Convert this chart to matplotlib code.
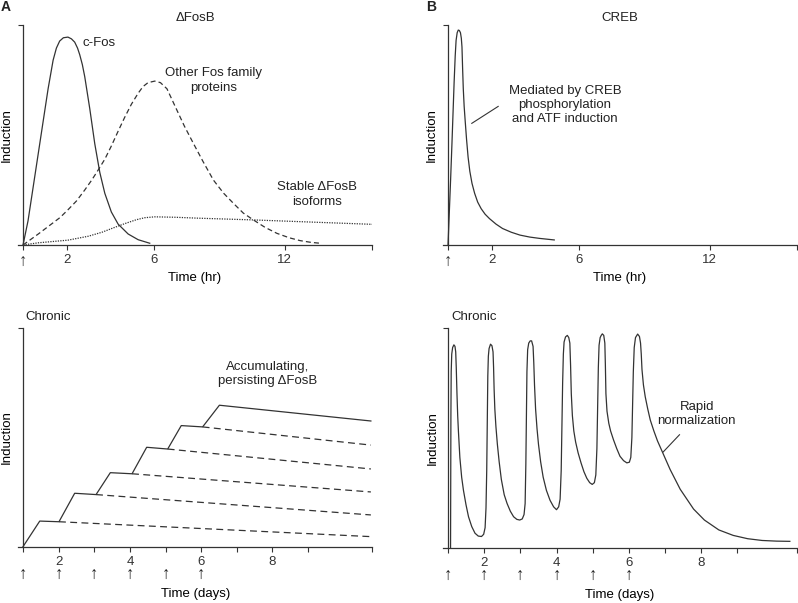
import matplotlib.pyplot as plt
from matplotlib.transforms import blended_transform_factory

plt.rcParams.update({"font.family": ["Liberation Sans", "DejaVu Sans"], "font.size": 9.5,
                     "text.color": "#222222", "axes.edgecolor": "#333333",
                     "xtick.color": "#333333", "ytick.color": "#333333"})
INK = "#333333"

# --- A, acute (hours) ---
cfos_hr = [0, 0.23, 0.46, 0.69, 0.92, 1.15, 1.38, 1.53, 1.68, 1.85, 2.06, 2.22, 2.37, 2.5, 2.6,
           2.72, 2.83, 3.06, 3.29, 3.52, 3.75, 4.05, 4.36, 4.82, 5.28, 5.81]
cfos_val = [0, 0.11, 0.26, 0.41, 0.56, 0.71, 0.84, 0.895, 0.927, 0.942, 0.945, 0.937, 0.922, 0.895,
            0.865, 0.82, 0.765, 0.62, 0.46, 0.33, 0.235, 0.15, 0.095, 0.05, 0.024, 0.008]
other_hr = [0, 0.35, 0.7, 1.3, 1.7, 2.06, 2.45, 2.83, 3.15, 3.44, 3.75, 4.05, 4.35, 4.66, 4.97,
            5.28, 5.5, 5.73, 6.04, 6.3, 6.6, 7.05, 7.4, 7.81, 8.25, 8.73, 9.2, 9.65, 10.1, 10.56,
            11.1, 11.64, 12.2, 12.7, 13.2, 13.62]
other_val = [0, 0.025, 0.05, 0.095, 0.125, 0.16, 0.2, 0.25, 0.295, 0.34, 0.39, 0.45, 0.515, 0.58,
             0.64, 0.69, 0.72, 0.738, 0.745, 0.738, 0.71, 0.614, 0.54, 0.462, 0.38, 0.295, 0.235,
             0.189, 0.145, 0.114, 0.08, 0.053, 0.033, 0.02, 0.012, 0.008]
stable_hr = [0, 0.7, 2.06, 3.0, 3.62, 4.2, 4.66, 5.2, 5.58, 6.04, 7.0, 8.0, 10.56, 13.0, 16.0]
stable_val = [0, 0.01, 0.022, 0.04, 0.058, 0.08, 0.097, 0.115, 0.124, 0.128, 0.126, 0.122, 0.114,
              0.105, 0.094]

# --- B, acute (hours) ---
creb_hr = [0, 0.06, 0.12, 0.18, 0.23, 0.28, 0.33, 0.37, 0.42, 0.47, 0.52, 0.57, 0.61, 0.64, 0.67,
           0.7, 0.74, 0.79, 0.85, 0.92, 1.0, 1.1, 1.22, 1.36, 1.52, 1.7, 1.9, 2.2, 2.5, 2.9, 3.3,
           3.75, 4.2, 4.87]
creb_val = [0, 0.15, 0.3, 0.46, 0.6, 0.74, 0.86, 0.93, 0.965, 0.977, 0.975, 0.965, 0.94, 0.9, 0.8,
            0.71, 0.63, 0.56, 0.48, 0.4, 0.335, 0.28, 0.235, 0.195, 0.165, 0.14, 0.12, 0.095,
            0.075, 0.058, 0.045, 0.036, 0.03, 0.023]

# --- A, chronic (days) ---
stair_day = [1.0, 1.47, 2.01, 2.45, 3.05, 3.45, 4.06, 4.47, 5.06, 5.44, 6.04, 6.51, 10.76]
stair_val = [0, 0.117, 0.114, 0.244, 0.238, 0.338, 0.333, 0.454, 0.446, 0.553, 0.547, 0.646, 0.574]
decay_start_day = [2.01, 3.05, 4.06, 5.06, 6.04]
decay_start_val = [0.114, 0.238, 0.333, 0.446, 0.547]
decay_end_day = 10.76
decay_end_val = [0.046, 0.145, 0.25, 0.355, 0.464]

# --- B, chronic (days) ---
pulse_day = [
    1.062, 1.066, 1.072, 1.08, 1.095, 1.12, 1.155, 1.185, 1.205,
    1.22, 1.24, 1.26, 1.28, 1.32, 1.37, 1.42, 1.49, 1.56, 1.65, 1.74, 1.83, 1.92,
    1.98, 2.02, 2.045, 2.065, 2.08, 2.095, 2.11, 2.13, 2.17, 2.21, 2.24,
    2.255, 2.27, 2.29, 2.32, 2.36, 2.41, 2.47, 2.55, 2.63, 2.72, 2.81, 2.9, 2.98,
    3.05, 3.1, 3.13, 3.15, 3.165, 3.18, 3.2, 3.23, 3.27, 3.31, 3.35,
    3.37, 3.39, 3.42, 3.46, 3.5, 3.56, 3.63, 3.72, 3.82, 3.92, 4.0,
    4.06, 4.1, 4.13, 4.15, 4.17, 4.19, 4.21, 4.25, 4.3, 4.34, 4.37,
    4.39, 4.41, 4.44, 4.48, 4.53, 4.6, 4.68, 4.76, 4.84, 4.92, 4.99,
    5.05, 5.09, 5.12, 5.14, 5.16, 5.18, 5.21, 5.24, 5.27, 5.31, 5.34,
    5.355, 5.37, 5.4, 5.45, 5.5, 5.58, 5.67, 5.76, 5.86, 5.95, 6.02,
    6.06, 6.09, 6.11, 6.13, 6.155, 6.19, 6.25, 6.3, 6.33,
    6.35, 6.37, 6.41, 6.46, 6.53, 6.6, 6.7, 6.8, 6.96, 7.15, 7.43, 7.8, 8.1, 8.5, 8.9, 9.3,
    9.7, 10.1, 10.47]
pulse_val = [
    0.0, 0.3, 0.6, 0.8, 0.88, 0.91, 0.922, 0.915, 0.89,
    0.82, 0.7, 0.6, 0.53, 0.41, 0.32, 0.26, 0.195, 0.14, 0.095, 0.065, 0.052, 0.05,
    0.06, 0.09, 0.18, 0.35, 0.58, 0.78, 0.87, 0.905, 0.925, 0.918, 0.89,
    0.82, 0.72, 0.63, 0.55, 0.47, 0.39, 0.31, 0.24, 0.2, 0.165, 0.14, 0.128, 0.125,
    0.13, 0.15, 0.2, 0.38, 0.6, 0.8, 0.9, 0.93, 0.94, 0.94, 0.915,
    0.84, 0.74, 0.63, 0.54, 0.47, 0.39, 0.32, 0.26, 0.215, 0.185, 0.172,
    0.185, 0.22, 0.35, 0.55, 0.75, 0.88, 0.935, 0.958, 0.965, 0.955, 0.93,
    0.83, 0.7, 0.6, 0.53, 0.48, 0.43, 0.385, 0.345, 0.315, 0.295, 0.287,
    0.295, 0.33, 0.45, 0.65, 0.82, 0.92, 0.955, 0.965, 0.972, 0.965, 0.93,
    0.83, 0.7, 0.62, 0.565, 0.53, 0.49, 0.45, 0.415, 0.395, 0.385, 0.388,
    0.41, 0.5, 0.65, 0.8, 0.91, 0.955, 0.971, 0.96, 0.93,
    0.88, 0.81, 0.74, 0.686, 0.63, 0.58, 0.53, 0.485, 0.425, 0.355, 0.265, 0.175, 0.125, 0.08,
    0.055, 0.04, 0.032, 0.029, 0.028]

dose_days = [1, 2, 3, 4, 5, 6]
hr_ticks = [0, 2, 6, 12, 16]
hr_labels = ["\u2191", "2", "6", "12", ""]
day_labels = {2: "2", 4: "4", 6: "6", 8: "8"}

fig = plt.figure(figsize=(7.98, 6.03), dpi=100)
W, H = 798, 603


def make_axes(x0, x1, ytop, ybot, xlim, origin):
    ax = fig.add_axes([x0 / W, 1 - ybot / H, (x1 - x0) / W, (ybot - ytop) / H])
    ax.set_xlim(*xlim)
    ax.set_ylim(0, 1)
    for s in ["top", "right"]:
        ax.spines[s].set_visible(False)
    ax.spines["left"].set_position(("data", origin))
    ax.spines["left"].set_bounds(0, 1)
    ax.set_yticks([1])
    ax.set_yticklabels([])
    ax.tick_params(length=3.5, width=0.8, pad=3)
    for s in ax.spines.values():
        s.set_linewidth(0.9)
    ax.set_ylabel("Induction")
    ax.yaxis.set_label_coords(-0.014, 0.5)
    return ax


# top-left
ax1 = make_axes(18, 372, 25, 245, (-0.23, 16), 0)
ax1.plot(cfos_hr, cfos_val, color=INK, lw=0.9)
ax1.plot(other_hr, other_val, color=INK, lw=0.9, ls=(0, (4, 2.5)))
ax1.plot(stable_hr, stable_val, color=INK, lw=0.9, ls=(0, (1, 1)))
ax1.text(0.5, 1.032, "\u0394FosB", transform=ax1.transAxes, ha="center", va="center")
ax1.text(2.75, 0.918, "c-Fos", ha="left", va="center")
ax1.text(8.72, 0.748, "Other Fos family\nproteins", ha="center", va="center", linespacing=1.25)
ax1.text(13.5, 0.229, "Stable \u0394FosB\nisoforms", ha="center", va="center", linespacing=1.25)

# top-right
ax2 = make_axes(443, 797, 25, 245, (-0.23, 16), 0)
ax2.plot(creb_hr, creb_val, color=INK, lw=0.9)
ax2.plot([1.09, 2.3], [0.553, 0.63], color=INK, lw=0.8)
ax2.text(0.5, 1.032, "CREB", transform=ax2.transAxes, ha="center", va="center")
ax2.text(5.37, 0.636, "Mediated by CREB\nphosphorylation\nand ATF induction",
         ha="center", va="center", linespacing=1.25)

for ax in (ax1, ax2):
    ax.set_xticks(hr_ticks, hr_labels)
    ax.get_xticklabels()[0].set_fontsize(12)
    ax.set_xlabel("Time (hr)")
    ax.xaxis.set_label_coords(0.5, -0.125)

# bottom-left
ax3 = make_axes(18, 372.3, 327.7, 546.7, (0.86, 10.8), 1)
ax3.plot(stair_day, stair_val, color=INK, lw=0.9)
for d0, v0, v1 in zip(decay_start_day, decay_start_val, decay_end_val):
    ax3.plot([d0, decay_end_day], [v0, v1], color=INK, lw=0.9, ls=(0, (5.5, 3.5)))
ax3.text(7.87, 0.79, "Accumulating,\npersisting \u0394FosB", ha="center", va="center",
         linespacing=1.25)

# bottom-right
ax4 = make_axes(443.3, 796.7, 327.7, 547.5, (0.861, 10.66), 1)
ax4.plot(pulse_day, pulse_val, color=INK, lw=0.9)
ax4.plot([6.96, 7.41], [0.435, 0.513], color=INK, lw=0.8)
ax4.text(7.89, 0.607, "Rapid\nnormalization", ha="center", va="center", linespacing=1.25)

for ax, end in [(ax3, 10.8), (ax4, 10.66)]:
    ticks = list(range(1, 10)) + [end]
    ax.set_xticks(ticks, [day_labels.get(t, "") for t in ticks])
    ax.set_xlabel("Time (days)")
    ax.xaxis.set_label_coords(0.5, -0.19)
    ax.text(1.08, 1.049, "Chronic", transform=ax.get_xaxis_transform(), ha="left", va="center")
    tr = blended_transform_factory(ax.transData, ax.transAxes)
    for d in dose_days:
        ax.text(d, -0.129, "\u2191", transform=tr, ha="center", va="center", fontsize=12)

fig.text(6 / W, 1 - 7 / H, "A", fontsize=10, fontweight="bold", ha="center", va="center")
fig.text(431 / W, 1 - 7 / H, "B", fontsize=10, fontweight="bold", ha="center", va="center")

fig.savefig("out.png", dpi=100)
